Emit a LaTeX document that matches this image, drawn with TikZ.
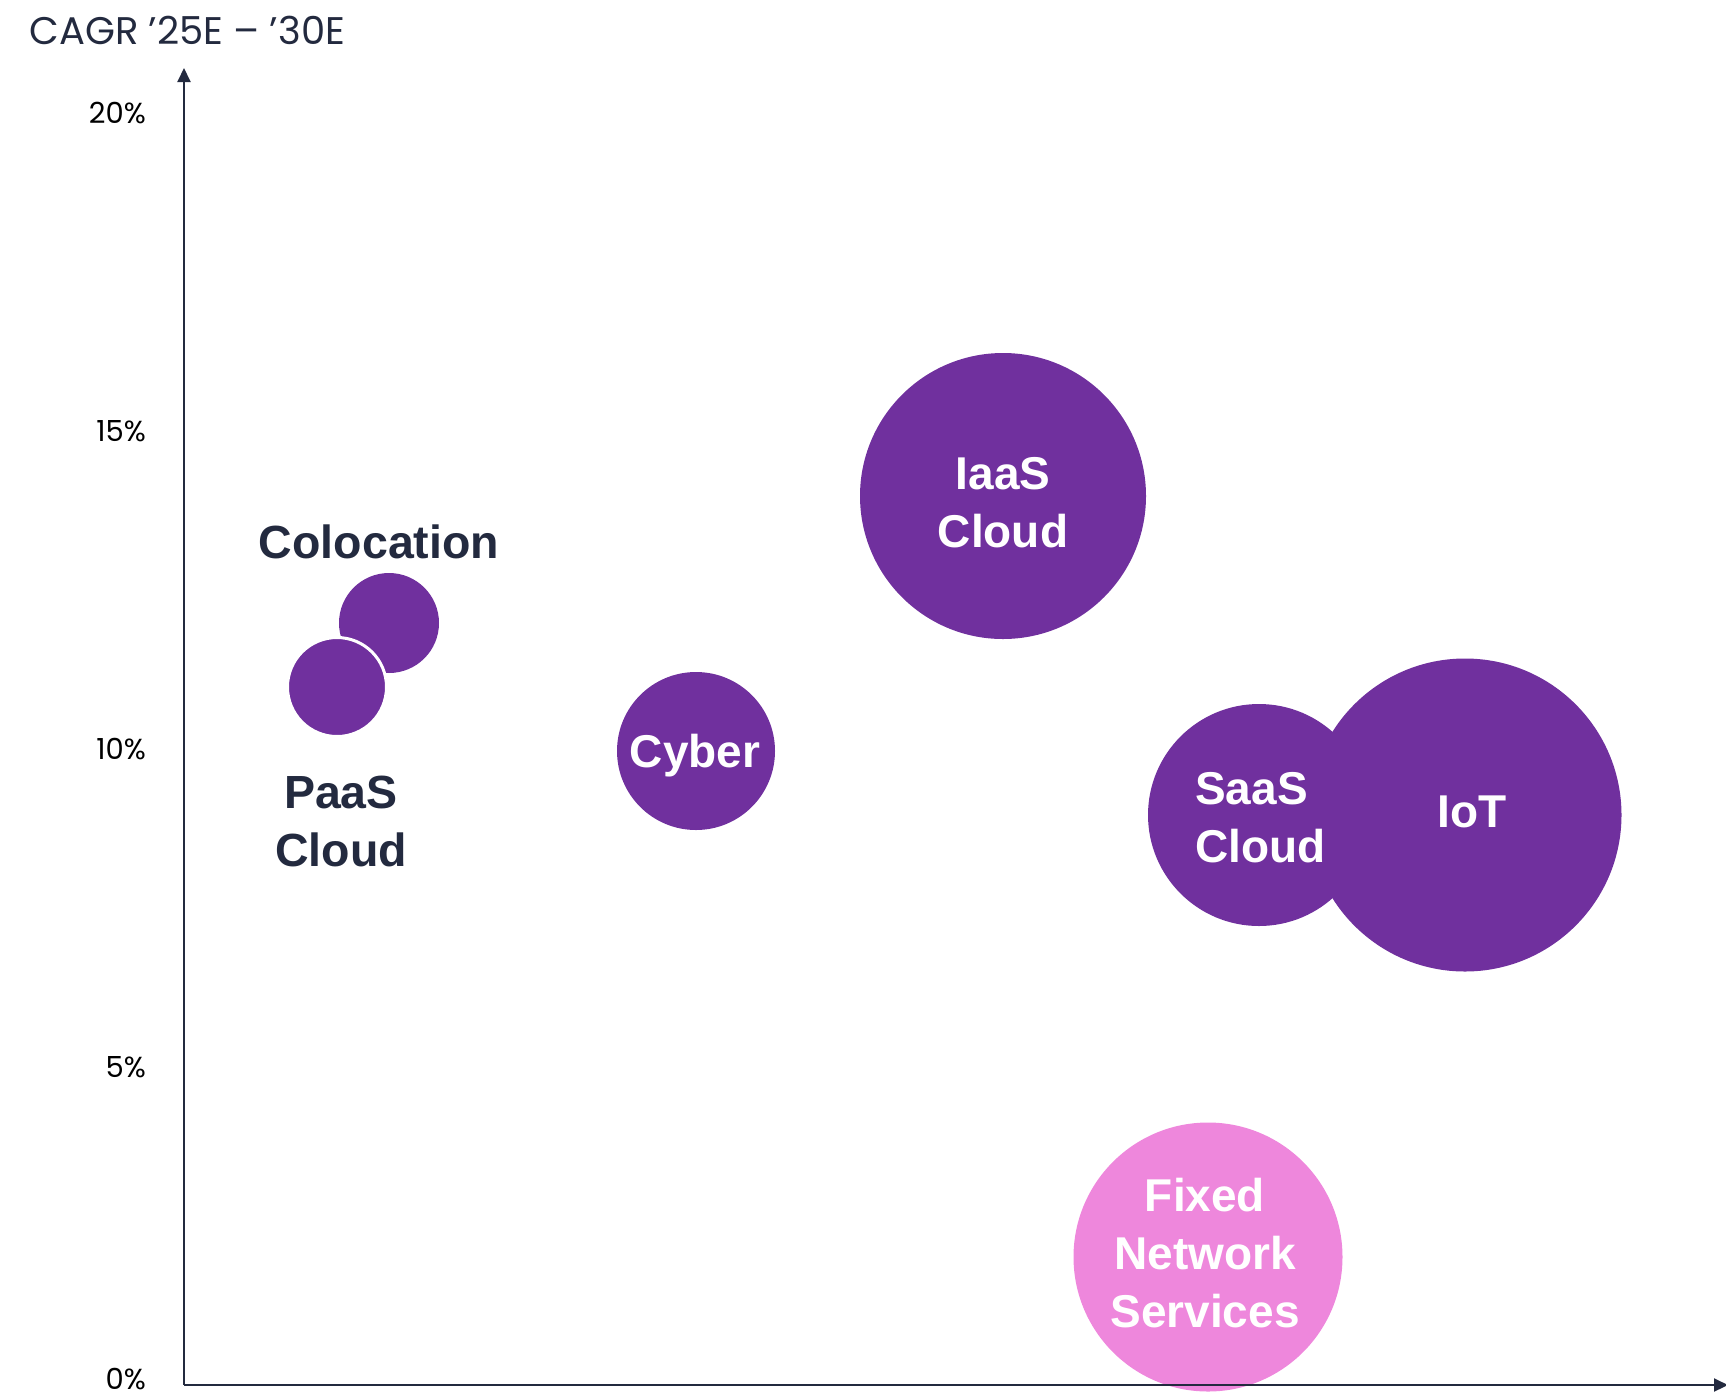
\documentclass[tikz,border=0pt]{standalone}
\usepackage{fontspec}
\setmainfont{Liberation Sans}
\newfontfamily\axisfont{Poppins}
\usetikzlibrary{arrows.meta}

\definecolor{bubblepurple}{HTML}{70309E}
\definecolor{bubblepink}{HTML}{EE87DC}
\definecolor{axisnavy}{HTML}{232A3F}

\tikzset{
  bubble/.style={circle, fill=bubblepurple, inner sep=0pt},
  bubbletext/.style={text=white, align=center, inner sep=0pt,
    font=\bfseries\fontsize{46}{58}\selectfont},
  outlabel/.style={text=axisnavy, align=center,
    font=\bfseries\fontsize{46.5}{58}\selectfont},
  ticklabel/.style={anchor=east, inner sep=0pt,
    font=\axisfont\fontsize{29}{29}\selectfont},
  axisline/.style={draw=axisnavy, line width=2pt,
    -{Triangle[width=13pt,length=14pt]}}
}

\begin{document}
\begin{tikzpicture}[x=1pt,y=-1pt]
  \useasboundingbox (0,0) rectangle (1726,1398);

  \node[anchor=west, text=axisnavy, font=\axisfont\fontsize{38.5}{38.5}\selectfont]
    (title) at (26,30) {CAGR ’25E – ’30E};

  % bubbles
  \node[bubble, minimum size=286pt] (iaas) at (1003,496) {};
  \node[bubble, minimum size=100pt] (coloc) at (389,623) {};
  \node[bubble, minimum size=99pt, draw=white, line width=3pt] (paas) at (337,687) {};
  \node[bubble, minimum size=158pt] (cyber) at (696,751) {};
  \node[bubble, minimum size=222pt] (saas) at (1259,815) {};
  \node[bubble, minimum size=313pt] (iot) at (1465,815) {};
  \node[bubble, fill=bubblepink, minimum size=269pt] (fixed) at (1208,1257) {};

  % bubble labels
  \node[bubbletext] (iaaslabel) at (1003,503) {IaaS\\Cloud};
  \node[bubbletext] (cyberlabel) at (695,756) {Cyber};
  \node[bubbletext, anchor=west, align=left] (saaslabel) at (1195,818) {SaaS\\Cloud};
  \node[bubbletext] (iotlabel) at (1472,812) {IoT};
  \node[bubbletext] (fixedlabel) at (1205,1253) {Fixed\\Network\\Services};

  \node[outlabel] (coloclabel) at (379,542) {Colocation};
  \node[outlabel] (paaslabel) at (341,821) {PaaS\\Cloud};

  % axes
  \coordinate (origin) at (184,1385);
  \coordinate (ytip) at (184,68);
  \coordinate (xtip) at (1728,1385);
  \draw[axisline] (origin) -- (ytip);
  \draw[axisline] (origin) -- (xtip);

  \node[ticklabel] (t20) at (146,113) {20\%};
  \node[ticklabel] (t15) at (146,431) {15\%};
  \node[ticklabel] (t10) at (146,749) {10\%};
  \node[ticklabel] (t5) at (146,1067) {5\%};
  \node[ticklabel] (t0) at (146,1379) {0\%};
\end{tikzpicture}
\end{document}
